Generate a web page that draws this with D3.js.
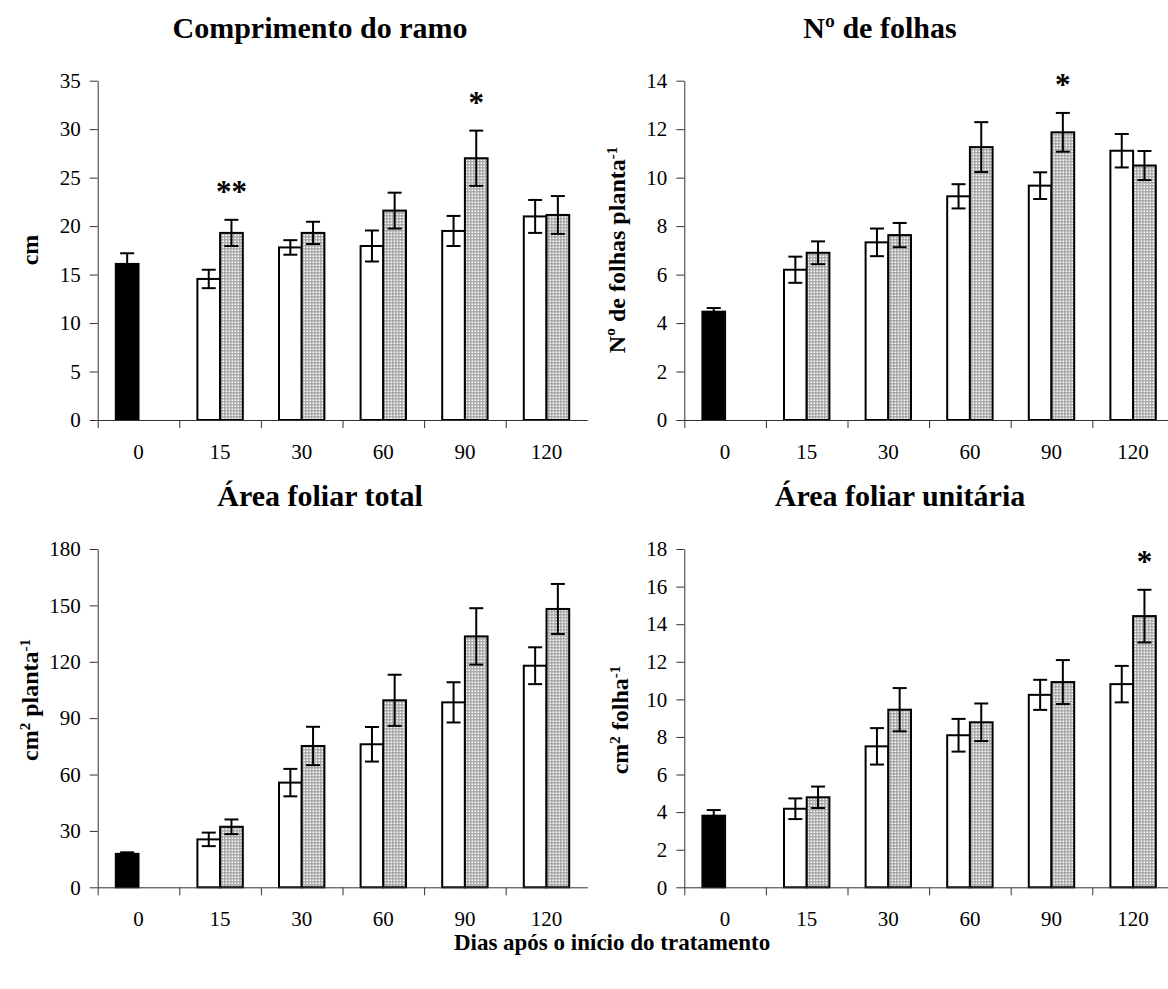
<!DOCTYPE html>
<html>
<head>
<meta charset="utf-8">
<script src="https://cdn.jsdelivr.net/npm/d3@7"></script>
<style>
  body { margin: 0; background: #fff; }
  svg text { font-family: "Liberation Serif", "Times New Roman", serif; }
</style>
</head>
<body>
<div id="chart"></div>
<script>
// dias após o início do tratamento
const dias = ["0", "15", "30", "60", "90", "120"];

// Comprimento do ramo (cm)
const ramoInicial = [16.1, 1.1];
const ramoControle = [14.55, 17.8, 17.95, 19.5, 21.0];
const ramoControleErro = [0.95, 0.75, 1.6, 1.55, 1.7];
const ramoTratado = [19.3, 19.3, 21.6, 27.0, 21.15];
const ramoTratadoErro = [1.35, 1.15, 1.85, 2.85, 1.95];
const ramoSig = ["**", "", "", "*", ""];

// Nº de folhas
const folhasInicial = [4.47, 0.15];
const folhasControle = [6.2, 7.33, 9.23, 9.67, 11.11];
const folhasControleErro = [0.54, 0.57, 0.5, 0.55, 0.69];
const folhasTratado = [6.9, 7.63, 11.26, 11.87, 10.5];
const folhasTratadoErro = [0.47, 0.5, 1.03, 0.8, 0.6];
const folhasSig = ["", "", "", "*", ""];

// Área foliar total
const totalInicial = [17.8, 0.8];
const totalControle = [25.5, 55.7, 76.1, 98.4, 117.9];
const totalControleErro = [3.6, 7.3, 9.2, 10.7, 9.8];
const totalTratado = [32.2, 75.2, 99.5, 133.5, 148.1];
const totalTratadoErro = [3.9, 10.2, 13.6, 15.0, 13.3];
const totalSig = ["", "", "", "", ""];

// Área foliar unitária
const unitInicial = [3.81, 0.3];
const unitControle = [4.18, 7.5, 8.09, 10.24, 10.81];
const unitControleErro = [0.55, 0.97, 0.87, 0.8, 0.97];
const unitTratado = [4.79, 9.45, 8.78, 10.92, 14.43];
const unitTratadoErro = [0.57, 1.15, 1.0, 1.17, 1.4];
const unitSig = ["", "", "", "", "*"];

const W = 1168, H = 989;
const svg = d3.select("#chart").append("svg")
    .attr("width", W)
    .attr("height", H);

// dotted fill of the treated bars
const pat = svg.append("defs").append("pattern")
    .attr("id", "dots")
    .attr("patternUnits", "userSpaceOnUse")
    .attr("width", 3)
    .attr("height", 3);
pat.append("rect").attr("width", 3).attr("height", 3).attr("fill", "#a6a6a6");
pat.append("rect").attr("x", 0.5).attr("y", 0.5).attr("width", 1.6).attr("height", 1.6).attr("fill", "#ffffff");

const panels = [
    {title: "Comprimento do ramo", titleX: 320, titleY: 38, ylab: ["cm"], ylabY: 250, ylabX: 30,
     left: 97.7, top: 80.7, bottom: 420, max: 35, step: 5,
     ini: ramoInicial, c: ramoControle, ce: ramoControleErro, t: ramoTratado, te: ramoTratadoErro, sig: ramoSig},
    {title: "Nº de folhas", titleX: 880, titleY: 38, ylab: ["Nº de folhas planta", "-1"], ylabY: 250, ylabX: 617,
     left: 684.3, top: 80.7, bottom: 420, max: 14, step: 2,
     ini: folhasInicial, c: folhasControle, ce: folhasControleErro, t: folhasTratado, te: folhasTratadoErro, sig: folhasSig},
    {title: "Área foliar total", titleX: 320, titleY: 506, ylab: ["cm", "2", " planta", "-1"], ylabY: 700, ylabX: 30,
     left: 97.7, top: 549, bottom: 887.3, max: 180, step: 30,
     ini: totalInicial, c: totalControle, ce: totalControleErro, t: totalTratado, te: totalTratadoErro, sig: totalSig},
    {title: "Área foliar unitária", titleX: 900, titleY: 506, ylab: ["cm", "2", " folha", "-1"], ylabY: 720, ylabX: 620,
     left: 684.3, top: 549, bottom: 887.3, max: 18, step: 2,
     ini: unitInicial, c: unitControle, ce: unitControleErro, t: unitTratado, te: unitTratadoErro, sig: unitSig}
];

const band = 81.6;
const bw = 22.7;
const cap = 7;

panels.forEach(p => {
    const g = svg.append("g");

    const x = d3.scaleBand()
        .domain(dias)
        .range([p.left, p.left + band * dias.length]);
    const xi = d3.scaleLinear()
        .domain([0, dias.length])
        .range([p.left, p.left + band * dias.length]);
    const y = d3.scaleLinear()
        .domain([0, p.max])
        .range([p.bottom, p.top]);

    // bars: [day, value, error, kind]
    const bars = [{d: dias[0], v: p.ini[0], e: p.ini[1], k: "ini"}];
    dias.slice(1).forEach((d, i) => {
        bars.push({d: d, v: p.c[i], e: p.ce[i], k: "c"});
        bars.push({d: d, v: p.t[i], e: p.te[i], k: "t", s: p.sig[i]});
    });
    const bx = b => x(b.d) + x.bandwidth() / 2 + (b.k === "t" ? 0 : -bw);

    g.selectAll("rect.bar")
        .data(bars)
        .enter().append("rect")
        .attr("class", "bar")
        .attr("x", bx)
        .attr("y", b => y(b.v))
        .attr("width", bw)
        .attr("height", b => y(0) - y(b.v))
        .attr("fill", b => b.k === "ini" ? "#000" : b.k === "t" ? "url(#dots)" : "#fff")
        .attr("stroke", "#000")
        .attr("stroke-width", 2);

    // error bars
    const eb = g.selectAll("g.err")
        .data(bars)
        .enter().append("g")
        .attr("class", "err")
        .attr("stroke", "#000")
        .attr("stroke-width", 2);
    eb.append("line")
        .attr("x1", b => bx(b) + bw / 2).attr("x2", b => bx(b) + bw / 2)
        .attr("y1", b => y(b.v + b.e)).attr("y2", b => y(b.v - b.e));
    eb.append("line")
        .attr("x1", b => bx(b) + bw / 2 - cap).attr("x2", b => bx(b) + bw / 2 + cap)
        .attr("y1", b => y(b.v + b.e)).attr("y2", b => y(b.v + b.e));
    eb.append("line")
        .attr("x1", b => bx(b) + bw / 2 - cap).attr("x2", b => bx(b) + bw / 2 + cap)
        .attr("y1", b => y(b.v - b.e)).attr("y2", b => y(b.v - b.e));

    // significance asterisks
    g.selectAll("text.sig")
        .data(bars.filter(b => b.s))
        .enter().append("text")
        .attr("class", "sig")
        .attr("x", b => bx(b) + bw / 2)
        .attr("y", b => y(b.v + b.e) - 18)
        .attr("text-anchor", "middle")
        .attr("font-size", 31)
        .attr("font-weight", "bold")
        .text(b => b.s);

    // y axis
    const ya = g.append("g")
        .attr("transform", `translate(${p.left},0)`)
        .call(d3.axisLeft(y)
            .tickValues(d3.range(0, p.max + p.step / 2, p.step))
            .tickSize(8)
            .tickPadding(9)
            .tickSizeOuter(0));
    ya.selectAll("text").attr("font-size", 21).attr("fill", "#000")
        .style("font-family", '"Liberation Serif", serif');
    ya.selectAll("line, path").attr("stroke", "#333");

    // x axis: boundary ticks + centred labels
    const xa = g.append("g")
        .attr("transform", `translate(0,${p.bottom})`)
        .call(d3.axisBottom(xi)
            .tickValues(d3.range(0, dias.length))
            .tickFormat("")
            .tickSize(8)
            .tickSizeOuter(0));
    xa.selectAll("line, path").attr("stroke", "#333");
    const xl = g.append("g")
        .attr("transform", `translate(0,${p.bottom})`)
        .call(d3.axisBottom(x).tickSize(0).tickPadding(24));
    xl.select(".domain").remove();
    xl.selectAll("text").attr("font-size", 21).attr("fill", "#000")
        .style("font-family", '"Liberation Serif", serif');

    // title
    g.append("text")
        .attr("x", p.titleX)
        .attr("y", p.titleY)
        .attr("text-anchor", "middle")
        .attr("font-size", 30)
        .attr("font-weight", "bold")
        .text(p.title);

    // y label
    const yl = g.append("text")
        .attr("transform", `translate(${p.ylabX},${p.ylabY}) rotate(-90)`)
        .attr("text-anchor", "middle")
        .attr("dy", "0.35em")
        .attr("font-size", 24)
        .attr("font-weight", "bold");
    p.ylab.forEach((s, i) => {
        const sup = s === "2" || s === "-1";
        yl.append("tspan")
            .attr("font-size", sup ? 15 : 24)
            .attr("baseline-shift", sup ? "super" : null)
            .text(s);
    });
});

svg.append("text")
    .attr("x", 612)
    .attr("y", 950)
    .attr("text-anchor", "middle")
    .attr("font-size", 23)
    .attr("font-weight", "bold")
    .text("Dias após o início do tratamento");
</script>
</body>
</html>
